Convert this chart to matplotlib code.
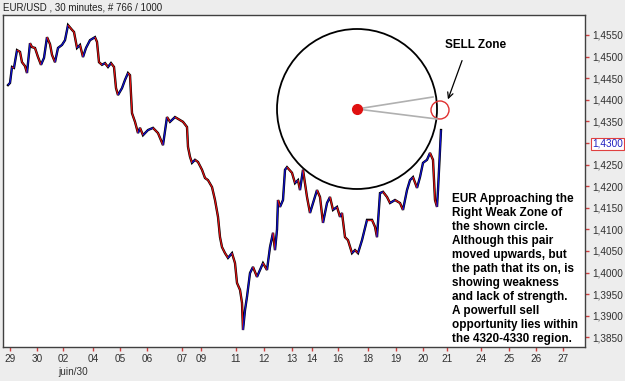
import numpy as np
import matplotlib.pyplot as plt
from matplotlib.collections import LineCollection
from matplotlib.patches import Ellipse

# bar position (time axis) and close price
bar = [5, 7, 9, 11, 14, 17, 19, 22, 24, 27, 29, 32, 35, 38, 41, 44, 47, 49, 52, 55,
       59, 62, 65, 69, 71, 74, 77, 80, 83, 87, 92, 94, 96, 99, 102, 105, 108, 111, 113, 115,
       119, 122, 125, 127, 129, 132, 135, 137, 140, 145, 150, 155, 160, 164, 167, 172, 177, 180, 184, 185,
       187, 189, 192, 195, 199, 202, 205, 209, 212, 215, 217, 219, 222, 225, 229, 232, 234, 237, 239, 240,
       242, 244, 247, 250, 254, 257, 260, 264, 267, 270, 272, 274, 275, 277, 280, 282, 284, 289, 292, 295,
       297, 300, 304, 307, 310, 314, 317, 320, 324, 327, 330, 334, 337, 339, 342, 345, 349, 352, 355, 359,
       364, 369, 372, 374, 377, 380, 384, 387, 392, 397, 400, 404, 407, 410, 414, 417, 420, 424, 427, 430,
       432, 434, 435, 437, 438]
close = [1.4434, 1.4439, 1.4476, 1.4474, 1.4515, 1.4511, 1.4487, 1.4478, 1.4462, 1.4531,
         1.4522, 1.4520, 1.4499, 1.4481, 1.4497, 1.4545, 1.4529, 1.4504, 1.4487, 1.4520,
         1.4527, 1.4538, 1.4573, 1.4562, 1.4557, 1.4520, 1.4527, 1.4499, 1.4520, 1.4538,
         1.4545, 1.4534, 1.4487, 1.4481, 1.4485, 1.4476, 1.4485, 1.4476, 1.4427, 1.4411,
         1.4427, 1.4446, 1.4462, 1.4457, 1.4369, 1.4349, 1.4323, 1.4335, 1.4318, 1.4330,
         1.4335, 1.4323, 1.4295, 1.4360, 1.4349, 1.4360, 1.4353, 1.4349, 1.4337, 1.4291,
         1.4268, 1.4254, 1.4261, 1.4256, 1.4238, 1.4219, 1.4214, 1.4198, 1.4168, 1.4129,
         1.4082, 1.4059, 1.4045, 1.4034, 1.4045, 1.4022, 1.3976, 1.3960, 1.3930, 1.3867,
         1.3913, 1.3944, 1.3999, 1.4013, 1.3990, 1.4006, 1.4022, 1.4006, 1.4059, 1.4092,
         1.4052, 1.4099, 1.4168, 1.4152, 1.4168, 1.4238, 1.4244, 1.4231, 1.4207, 1.4214,
         1.4191, 1.4238, 1.4175, 1.4138, 1.4161, 1.4191, 1.4175, 1.4115, 1.4161, 1.4175,
         1.4145, 1.4152, 1.4129, 1.4138, 1.4082, 1.4075, 1.4045, 1.4052, 1.4045, 1.4075,
         1.4122, 1.4122, 1.4106, 1.4082, 1.4184, 1.4187, 1.4175, 1.4161, 1.4168, 1.4161,
         1.4145, 1.4191, 1.4214, 1.4221, 1.4196, 1.4221, 1.4254, 1.4261, 1.4277, 1.4261,
         1.4168, 1.4152, 1.4191, 1.4284, 1.4330]

day_pos = [7, 34, 60, 90, 117, 144, 179, 198, 233, 261, 289, 309, 335, 365, 393, 420, 444,
           478, 506, 533, 560]
day_lbl = ['29', '30', '02', '04', '05', '06', '07', '09', '11', '12', '13', '14', '16',
           '18', '19', '20', '21', '24', '25', '26', '27']
price_ticks = [1.3850, 1.3900, 1.3950, 1.4000, 1.4050, 1.4100, 1.4150, 1.4200,
               1.4250, 1.4300, 1.4350, 1.4400, 1.4450, 1.4500, 1.4550]
last_price = 1.4300

note = ("EUR Approaching the\nRight Weak Zone of\nthe shown circle.\n"
        "Although this pair\nmoved upwards, but\nthe path that its on, is\n"
        "showing weakness\nand lack of strength.\nA powerfull sell\n"
        "opportunity lies within\nthe 4320-4330 region.")

plt.rcParams['font.family'] = ['Liberation Sans', 'DejaVu Sans']

fig = plt.figure(figsize=(6.25, 3.81), dpi=100, facecolor='#ededed')
ax = fig.add_axes([3 / 625, 1 - 347 / 381, 582 / 625, 332 / 381])
ax.set_facecolor('white')

x0, x1 = 0, 582
y0, y1 = 1.38277, 1.45963
ax.set_xlim(x0, x1)
ax.set_ylim(y0, y1)

# black "bar" body under a red/blue close line
ax.plot(bar, close, color='black', lw=1.7, zorder=2, solid_joinstyle='miter')
pts = np.column_stack([bar, close])
segs = np.stack([pts[:-1], pts[1:]], axis=1)
cols = ['#1010d0' if b > a else '#e01010' for a, b in zip(close[:-1], close[1:])]
ax.add_collection(LineCollection(segs, colors=cols, linewidths=0.9, zorder=3))

# circle drawn round in pixels
xs = (x1 - x0) / 582
ys = (y1 - y0) / 332
cx, cy = 354, 1.43787
ax.add_patch(Ellipse((cx, cy), 160 * xs, 160 * ys, fill=False, ec='black', lw=1.3, zorder=4))
ax.add_patch(Ellipse((437, 1.43764), 18 * xs, 18 * ys, fill=False, ec='#e03030', lw=1.0, zorder=4))
ax.plot([cx, 430], [cy, 1.44065], color='#b0b0b0', lw=1.2, zorder=4)
ax.plot([cx, 434], [cy, 1.43555], color='#b0b0b0', lw=1.2, zorder=4)
ax.plot(cx, cy, 'o', color='#e01010', ms=7, zorder=5)

ax.annotate('', xy=(444, 1.43949), xytext=(460, 1.44968),
            arrowprops=dict(arrowstyle='->', color='black', lw=0.9), zorder=5)
ax.text(442, 1.45268, 'SELL Zone', fontsize=8.5, fontweight='bold', va='center', ha='left')
ax.text(449, 1.41842, note, fontsize=8.5, fontweight='bold', va='top', ha='left',
        linespacing=1.22, zorder=6)

# axes styling
for s in ax.spines.values():
    s.set_color('#404040')
    s.set_linewidth(1.0)
ax.yaxis.tick_right()
ax.set_yticks(price_ticks)
ax.set_yticklabels([f'{v:.4f}'.replace('.', ',') for v in price_ticks])
ax.set_xticks(day_pos)
ax.set_xticklabels(day_lbl)
ax.tick_params(axis='both', colors='#d04040', labelcolor='#303030', labelsize=7.2,
               length=3, width=1, direction='out', pad=2)
for lab, v in zip(ax.get_yticklabels(), price_ticks):
    if abs(v - last_price) < 1e-6:
        lab.set_color('#2020c0')
        lab.set_bbox(dict(facecolor='white', edgecolor='#e04040', lw=0.8, pad=1.0))

fig.text(3 / 625, 1 - 8 / 381, 'EUR/USD , 30 minutes, # 766 / 1000', fontsize=7.0,
         va='center', ha='left', color='#202020')
fig.text(73 / 625, 1 - 372 / 381, 'juin/30', fontsize=7.2, va='center', ha='center',
         color='#303030')

fig.savefig('out.png', dpi=100, facecolor=fig.get_facecolor())
